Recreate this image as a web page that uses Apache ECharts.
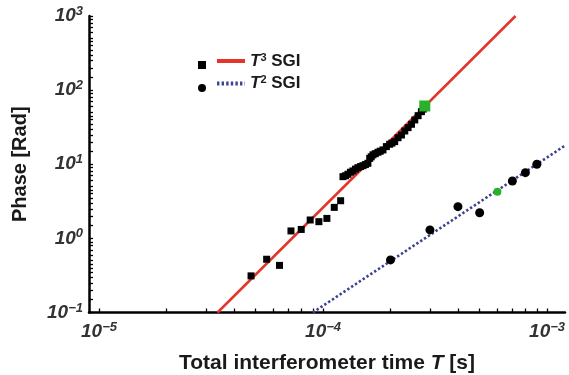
<!DOCTYPE html>
<html><head><meta charset="utf-8">
<script src="https://cdn.jsdelivr.net/npm/echarts@6/dist/echarts.min.js"></script>
<style>html,body{margin:0;padding:0;background:#fff}#c{width:569px;height:375px}</style>
</head><body><div id="c"></div>
<script>
// ---- data ----
const t3Time = [4.77e-5, 5.60e-5, 6.39e-5, 7.19e-5, 7.99e-5, 8.76e-5, 9.58e-5, 1.040e-4, 1.122e-4, 1.198e-4,
  1.227e-4, 1.26e-4, 1.291e-4, 1.325e-4, 1.359e-4, 1.395e-4, 1.431e-4, 1.47e-4, 1.507e-4, 1.545e-4,
  1.585e-4, 1.615e-4, 1.640e-4, 1.670e-4, 1.71e-4, 1.758e-4, 1.80e-4, 1.851e-4, 1.917e-4, 1.983e-4,
  2.03e-4, 2.088e-4, 2.161e-4, 2.238e-4, 2.316e-4, 2.396e-4, 2.481e-4, 2.567e-4, 2.656e-4, 2.748e-4, 2.80e-4];
const t3Phase = [0.312, 0.523, 0.432, 1.26, 1.32, 1.77, 1.68, 1.86, 2.62, 3.22,
  6.80, 7.0, 7.33, 7.8, 8.12, 8.6, 9.00, 9.3, 9.57, 9.9,
  10.3, 12.0, 12.6, 13.4, 13.9, 14.5, 15.0, 15.6, 17.3, 18.6,
  19.3, 20.2, 22.8, 24.8, 28.1, 31.2, 34.6, 39.6, 45.2, 51.2, 55.5];
const t3HighlightTime = [2.845e-4];
const t3HighlightPhase = [61.1];

const t2Time = [2e-4, 3e-4, 4e-4, 5e-4, 7e-4, 8e-4, 9e-4];
const t2Phase = [0.512, 1.30, 2.68, 2.22, 5.95, 7.70, 10.0];
const t2HighlightTime = [6e-4];
const t2HighlightPhase = [4.27];

// fit lines (end points)
const t3FitTime = [3.38e-5, 7.23e-4];
const t3FitPhase = [0.1, 1000];
const t2FitTime = [9.0e-5, 1.2e-3];
const t2FitPhase = [0.1, 17.8];

const xLabelValues = [1e-5, 1e-4, 1e-3];
const yLabelValues = [1e-1, 1, 10, 100, 1000];
const xMin = 9.02e-6, xMax = 1.202e-3;
const yMin = 0.1, yMax = 1000;

const seriesNames = ['T3 SGI', 'T2 SGI'];

// ---- build ----
const zip = (a, b) => a.map((v, i) => [v, b[i]]);
function decadeTicks(lo, hi, mults) {
  const out = [];
  for (let e = Math.floor(Math.log10(lo)); e <= Math.ceil(Math.log10(hi)); e++) {
    mults.forEach(m => { const v = m * Math.pow(10, e); if (v >= lo * 0.999 && v <= hi * 1.001) out.push(v); });
  }
  return out;
}
const xTicks = decadeTicks(xMin, xMax, [1,2,3,4,5,6,7,8,9]);
const yTicks = decadeTicks(yMin, yMax, [1,1.5,2,2.5,3,3.5,4,4.5,5,6,7,8,9]);

function powLabel(v) {
  const e = Math.round(Math.log10(v));
  return '{b|10}{s|' + (e < 0 ? '\u2212' + (-e) : e) + '}';
}
const FF = 'Liberation Sans, Arial';
const labelRich = {
  b: { fontFamily: FF, fontStyle: 'italic', fontWeight: 'bold', fontSize: 19, color: '#333' },
  s: { fontFamily: FF, fontStyle: 'italic', fontWeight: 'bold', fontSize: 13, color: '#333', verticalAlign: 'top', padding: [0,0,9,0] }
};

const chart = echarts.init(document.getElementById('c'), null, { renderer: 'canvas' });
chart.setOption({
  backgroundColor: '#fff',
  animation: false,
  grid: { left: 89, top: 16, width: 476, height: 296.5, containLabel: false, outerBoundsMode: 'none' },
  xAxis: {
    type: 'log', min: xMin, max: xMax, logBase: 10,
    name: '{n|Total interferometer time }{i|T}{n| [s]}',
    nameLocation: 'middle', nameGap: 40,
    nameTextStyle: { rich: {
      n: { fontFamily: FF, fontWeight: 'bold', fontSize: 21, color: '#1a1a1a' },
      i: { fontFamily: FF, fontWeight: 'bold', fontStyle: 'italic', fontSize: 21, color: '#1a1a1a' }
    } },
    axisLine: { lineStyle: { color: '#000', width: 2.5 } },
    axisTick: { inside: true, length: 4, customValues: xTicks, lineStyle: { color: '#000', width: 1.3 } },
    axisLabel: { customValues: xLabelValues, formatter: powLabel, rich: labelRich, margin: 8 },
    splitLine: { show: false }, minorTick: { show: false }
  },
  yAxis: {
    type: 'log', min: yMin, max: yMax, logBase: 10,
    name: 'Phase [Rad]', nameLocation: 'middle', nameGap: 59,
    nameTextStyle: { fontFamily: FF, fontWeight: 'bold', fontSize: 20, color: '#1a1a1a' },
    axisLine: { lineStyle: { color: '#000', width: 2.5 } },
    axisTick: { inside: true, length: 4, customValues: yTicks, lineStyle: { color: '#000', width: 1.3 } },
    axisLabel: { customValues: yLabelValues, formatter: powLabel, rich: labelRich, margin: 6 },
    splitLine: { show: false }, minorTick: { show: false }
  },
  legend: [
    { data: ['T3 data', 'T2 data'], orient: 'vertical', left: 193, top: 56, itemWidth: 8, itemHeight: 8, itemGap: 15,
      formatter: () => '', selectedMode: false, textStyle: { fontSize: 1 },
      itemStyle: { opacity: 1 } },
    { data: seriesNames, orient: 'vertical', left: 210, top: 47, itemWidth: 28, itemHeight: 10, itemGap: 5,
      selectedMode: false,
      itemStyle: { opacity: 0, borderWidth: 0 },
      lineStyle: { width: 4 },
      formatter: n => '{i|T}{s|' + n.charAt(1) + '}{n| SGI}',
      textStyle: { rich: {
        i: { fontFamily: FF, fontStyle: 'italic', fontWeight: 'bold', fontSize: 17, color: '#1a1a1a' },
        s: { fontFamily: FF, fontWeight: 'bold', fontSize: 11, color: '#1a1a1a', verticalAlign: 'top', padding: [0,0,7,0] },
        n: { fontFamily: FF, fontWeight: 'bold', fontSize: 17, color: '#1a1a1a' }
      } } }
  ],
  series: [
    { name: 'T3 SGI', type: 'line', data: zip(t3FitTime, t3FitPhase), symbol: 'none', clip: true,
      lineStyle: { color: '#e2352c', width: 2.5 }, itemStyle: { color: '#e2352c' }, z: 2 },
    { name: 'T2 SGI', type: 'line', data: zip(t2FitTime, t2FitPhase), symbol: 'none', clip: true,
      lineStyle: { color: '#3c4390', width: 2.6, type: [2.4, 2.2] }, itemStyle: { color: '#3c4390' }, z: 2 },
    { name: 'T3 data', type: 'scatter', symbol: 'rect', symbolSize: 7, data: zip(t3Time, t3Phase),
      itemStyle: { color: '#000', opacity: 1 }, z: 3 },
    { name: 'T3 highlight', type: 'scatter', symbol: 'rect', symbolSize: 11, data: zip(t3HighlightTime, t3HighlightPhase),
      itemStyle: { color: '#2bb02b', opacity: 1 }, z: 4 },
    { name: 'T2 data', type: 'scatter', symbol: 'circle', symbolSize: 9, data: zip(t2Time, t2Phase),
      itemStyle: { color: '#000', opacity: 1 }, z: 3 },
    { name: 'T2 highlight', type: 'scatter', symbol: 'circle', symbolSize: 8, data: zip(t2HighlightTime, t2HighlightPhase),
      itemStyle: { color: '#2bb02b', opacity: 1 }, z: 4 }
  ]
});
</script>
</body></html>
